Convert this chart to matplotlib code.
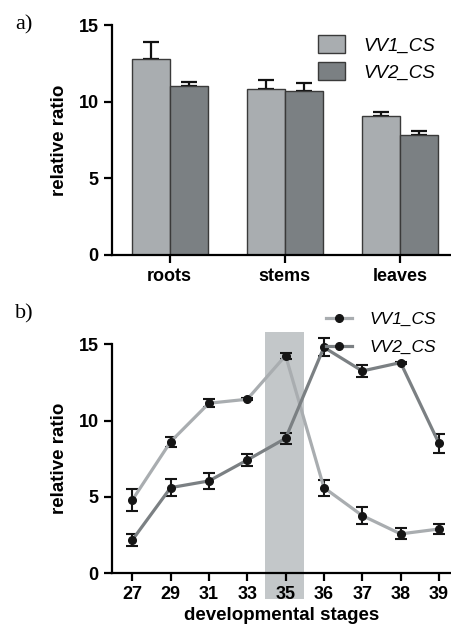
import matplotlib.pyplot as plt
import numpy as np
from matplotlib.patches import Rectangle

plt.rcParams["font.family"] = ["Liberation Sans", "DejaVu Sans"]

# panel a: tissues
tissues = ["roots", "stems", "leaves"]
vv1_tissue = [12.78, 10.82, 9.10]
vv1_tissue_err = [1.10, 0.59, 0.20]
vv2_tissue = [11.04, 10.71, 7.84]
vv2_tissue_err = [0.22, 0.52, 0.26]

# panel b: developmental stages
stages = ["27", "29", "31", "33", "35", "36", "37", "38", "39"]
vv1_stage = [4.80, 8.62, 11.14, 11.40, 14.26, 5.61, 3.78, 2.58, 2.90]
vv1_stage_err = [0.70, 0.33, 0.28, 0.08, 0.20, 0.52, 0.55, 0.36, 0.30]
vv2_stage = [2.18, 5.61, 6.05, 7.42, 8.84, 14.80, 13.25, 13.80, 8.52]
vv2_stage_err = [0.38, 0.58, 0.54, 0.38, 0.38, 0.60, 0.42, 0.06, 0.63]
highlight_stage = "35"

c_light = "#a9adb0"
c_dark = "#7b8083"
label_font = dict(fontsize=13.5, fontweight="bold")

fig = plt.figure(figsize=(4.52, 6.28), dpi=100)


def style_axes(ax):
    for side in ["top", "right"]:
        ax.spines[side].set_visible(False)
    for side in ["left", "bottom"]:
        ax.spines[side].set_linewidth(1.6)
    ax.tick_params(width=1.6, length=6, labelsize=13)
    for lab in ax.get_xticklabels() + ax.get_yticklabels():
        lab.set_fontweight("bold")


# ---- a) bar chart
ax1 = fig.add_axes([0.2478, 0.594, 0.752, 0.366])
x = np.arange(len(tissues))
w = 0.33
ax1.bar(x - w / 2, vv1_tissue, w, color=c_light, edgecolor="#3a3a3a",
        linewidth=1.0, label="VV1_CS", zorder=2)
ax1.bar(x + w / 2, vv2_tissue, w, color=c_dark, edgecolor="#3a3a3a",
        linewidth=1.0, label="VV2_CS", zorder=2)
ax1.errorbar(x - w / 2, vv1_tissue, yerr=[np.zeros(3), vv1_tissue_err],
             fmt="none", ecolor="#111111", elinewidth=1.6, capsize=5.5,
             capthick=1.6, zorder=1)
ax1.errorbar(x + w / 2, vv2_tissue, yerr=[np.zeros(3), vv2_tissue_err],
             fmt="none", ecolor="#111111", elinewidth=1.6, capsize=5.5,
             capthick=1.6, zorder=1)
ax1.set_xlim(-0.5, 2.45)
ax1.set_ylim(0, 15)
ax1.set_yticks([0, 5, 10, 15])
ax1.set_xticks(x)
ax1.set_xticklabels(tissues)
ax1.set_ylabel("relative ratio", labelpad=8, **label_font)
style_axes(ax1)
ax1.legend(loc="upper right", bbox_to_anchor=(1.0, 1.03), frameon=False,
           prop=dict(size=13.5, style="italic"), handlelength=1.45,
           handleheight=1.1, handletextpad=0.95, labelspacing=0.4)

# ---- b) line chart
ax2 = fig.add_axes([0.2478, 0.0871, 0.752, 0.3647])
xs = np.arange(len(stages))
hi = stages.index(highlight_stage)
ax2.add_patch(Rectangle((hi - 0.55, -1.7), 1.02, 17.5, color="#c3c7c9",
                        lw=0, clip_on=False, zorder=0))
ax2.errorbar(xs, vv1_stage, yerr=vv1_stage_err, color=c_light, lw=2.3,
             marker="o", ms=5.5, mfc="#151515", mec="#151515", ecolor="#151515",
             elinewidth=1.5, capsize=4.3, capthick=1.5, label="VV1_CS",
             clip_on=False, zorder=3)
ax2.errorbar(xs, vv2_stage, yerr=vv2_stage_err, color=c_dark, lw=2.3,
             marker="o", ms=5.5, mfc="#151515", mec="#151515", ecolor="#151515",
             elinewidth=1.5, capsize=4.3, capthick=1.5, label="VV2_CS",
             clip_on=False, zorder=3)
ax2.set_xlim(-0.53, 8.34)
ax2.set_ylim(0, 15)
ax2.set_yticks([0, 5, 10, 15])
ax2.set_xticks(xs)
ax2.set_xticklabels(stages)
ax2.set_ylabel("relative ratio", labelpad=8, **label_font)
ax2.set_xlabel("developmental stages", labelpad=2.5, **label_font)
style_axes(ax2)
handles, labels = ax2.get_legend_handles_labels()
handles = [h[0] for h in handles]
ax2.legend(handles, labels, loc="upper right", bbox_to_anchor=(1.0, 1.21),
           frameon=False, prop=dict(size=12.5, style="italic"),
           handlelength=1.5, handletextpad=1.0, labelspacing=0.75)

fig.text(0.033, 0.975, "a)", fontsize=16, family="Liberation Serif",
         va="top")
fig.text(0.033, 0.515, "b)", fontsize=16, family="Liberation Serif",
         va="top")

fig.savefig("out.png", dpi=100)
